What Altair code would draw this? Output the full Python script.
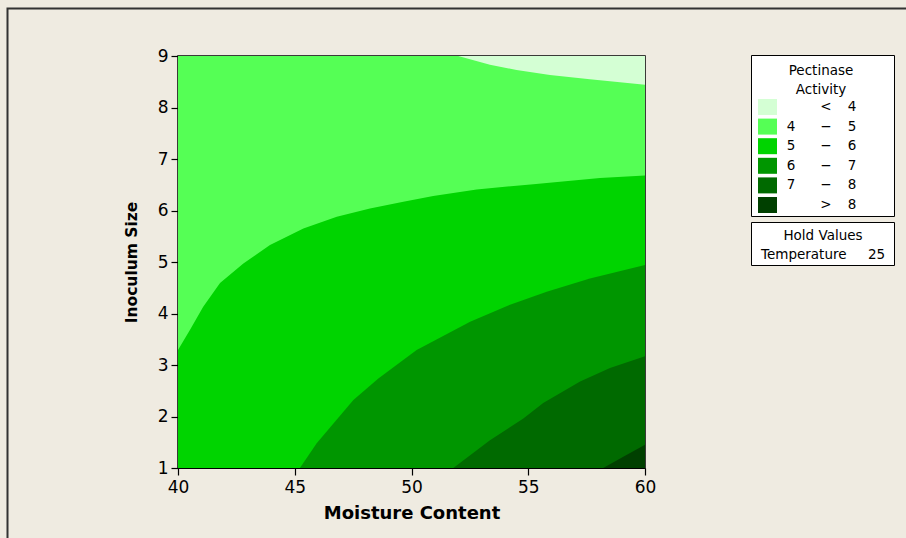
import altair as alt
import pandas as pd

# Contour boundaries of the fitted pectinase-activity surface (Temperature held at 25)
b45_x = [52.0, 53.36, 54.5, 55.93, 57.64, 58.93, 60.0]
b45_y = [9.0, 8.83, 8.73, 8.63, 8.55, 8.49, 8.44]

b56_x = [40.0, 40.51, 41.08, 41.80, 42.80, 43.94, 45.37, 46.80, 48.22, 49.65, 50.93, 52.79, 55.22, 58.07, 60.0]
b56_y = [3.29, 3.68, 4.13, 4.59, 4.97, 5.33, 5.65, 5.88, 6.04, 6.17, 6.28, 6.41, 6.51, 6.63, 6.68]

b67_x = [45.22, 45.94, 47.51, 48.58, 50.22, 52.51, 54.22, 55.79, 57.64, 60.0]
b67_y = [1.0, 1.48, 2.32, 2.74, 3.29, 3.84, 4.17, 4.42, 4.68, 4.94]

b78_x = [51.79, 53.36, 54.79, 55.64, 57.22, 58.5, 60.0]
b78_y = [1.0, 1.54, 1.96, 2.26, 2.68, 2.94, 3.17]

b8_x = [58.21, 59.07, 60.0]
b8_y = [1.0, 1.22, 1.45]

# Legend classes
bands = ["< 4", "4 − 5", "5 − 6", "6 − 7", "7 − 8", "> 8"]
band_lo = ["", "4", "5", "6", "7", ""]
band_op = ["<", "−", "−", "−", "−", ">"]
band_hi = ["4", "5", "6", "7", "8", "8"]
colors = ["#d4ffd4", "#55ff55", "#00d400", "#009600", "#006a00", "#004000"]

x_ticks = [40, 45, 50, 55, 60]
y_ticks = [1, 2, 3, 4, 5, 6, 7, 8, 9]

X_DOM = [40, 60]
Y_DOM = [1, 9]
FONT = "DejaVu Sans"
LEG_FS = 13.5

color_scale = alt.Scale(domain=bands, range=colors)
xs = alt.Scale(domain=X_DOM, nice=False, zero=False)
ys = alt.Scale(domain=Y_DOM, nice=False, zero=False)
x_axis = alt.Axis(values=x_ticks, format="d", labelFlush=False)


def band_df(band, xv, top, bottom):
    return pd.DataFrame({"band": band, "x": xv, "top": top, "bottom": bottom})


frames = [
    band_df(bands[1], X_DOM, [Y_DOM[1]] * 2, [Y_DOM[0]] * 2),
    band_df(bands[0], b45_x, [Y_DOM[1]] * len(b45_x), b45_y),
    band_df(bands[2], b56_x, b56_y, [Y_DOM[0]] * len(b56_x)),
    band_df(bands[3], b67_x, b67_y, [Y_DOM[0]] * len(b67_x)),
    band_df(bands[4], b78_x, b78_y, [Y_DOM[0]] * len(b78_x)),
    band_df(bands[5], b8_x, b8_y, [Y_DOM[0]] * len(b8_x)),
]

layers = []
for i, df in enumerate(frames):
    enc = dict(
        x=alt.X("x:Q", scale=xs, title="Moisture Content", axis=x_axis),
        y=alt.Y("top:Q", scale=ys, title="Inoculum Size",
                axis=alt.Axis(values=y_ticks, format="d", labelFlush=False) if i == 0 else None),
        y2="bottom:Q",
        color=alt.Color("band:N", scale=color_scale, legend=None),
    )
    layers.append(alt.Chart(df).mark_area(interpolate="linear", clip=True, opacity=1).encode(**enc))

# Outer figure frame
frame = alt.Chart(pd.DataFrame({"a": [0]})).mark_rect(
    fill=None, stroke="#333333", strokeWidth=2
).encode(x=alt.value(-170.5), x2=alt.value(800), y=alt.value(-47.5), y2=alt.value(600))

# Legend boxes
legend_box = alt.Chart(pd.DataFrame({"a": [0]})).mark_rect(
    fill="white", stroke="black", strokeWidth=1
).encode(x=alt.value(573.5), x2=alt.value(716.5), y=alt.value(-0.5), y2=alt.value(160.5))

hold_box = alt.Chart(pd.DataFrame({"a": [0]})).mark_rect(
    fill="white", stroke="black", strokeWidth=1
).encode(x=alt.value(573.5), x2=alt.value(716.5), y=alt.value(166.5), y2=alt.value(209.5))


def label(text, x, y, align="center"):
    return alt.Chart(pd.DataFrame({"a": [0]})).mark_text(
        text=text, font=FONT, fontSize=LEG_FS, color="black", align=align, baseline="middle"
    ).encode(x=alt.value(x), y=alt.value(y))


legend_df = pd.DataFrame({"band": bands, "lo": band_lo, "op": band_op, "hi": band_hi})
leg = alt.Chart(legend_df).transform_window(
    rn="row_number()"
).transform_calculate(
    py="51 + 19.6 * (datum.rn - 1)",
    py0="51 + 19.6 * (datum.rn - 1) - 8",
    py1="51 + 19.6 * (datum.rn - 1) + 8",
)
swatches = leg.mark_rect().encode(
    x=alt.value(580), x2=alt.value(599),
    y=alt.Y("py0:Q", scale=None), y2="py1:Q",
    color=alt.Color("band:N", scale=color_scale, legend=None),
)
txt_kw = dict(font=FONT, fontSize=LEG_FS, color="black", baseline="middle", align="center")
lo_txt = leg.mark_text(**txt_kw).encode(x=alt.value(613), y=alt.Y("py:Q", scale=None), text="lo:N")
op_txt = leg.mark_text(**txt_kw).encode(x=alt.value(648), y=alt.Y("py:Q", scale=None), text="op:N")
hi_txt = leg.mark_text(**txt_kw).encode(x=alt.value(674), y=alt.Y("py:Q", scale=None), text="hi:N")

chart = alt.layer(
    *layers,
    frame, legend_box, hold_box,
    label("Pectinase", 643, 15), label("Activity", 643, 34),
    swatches, lo_txt, op_txt, hi_txt,
    label("Hold Values", 645, 180),
    label("Temperature", 583, 199, align="left"),
    label("25", 690, 199, align="left"),
).resolve_scale(y="independent").properties(
    width=467, height=412,
    autosize=alt.AutoSizeParams(type="none"),
    padding={"left": 178, "top": 56, "right": 261, "bottom": 70},
    background="#efebe1",
).configure_view(
    stroke="black", strokeWidth=1.5, fill="#55ff55"
).configure_axis(
    domainColor="black", tickColor="black", tickSize=7, tickWidth=1.2,
    labelFont=FONT, labelFontSize=17, labelColor="black",
    titleFont=FONT, titleFontWeight="bold", titleColor="black",
    grid=False,
).configure_axisX(
    labelPadding=4, titlePadding=9, titleFontSize=18
).configure_axisY(
    labelPadding=3, titlePadding=18, titleFontSize=15.5
)

chart.save("out.html", embed_options={"renderer": "svg", "actions": False})
